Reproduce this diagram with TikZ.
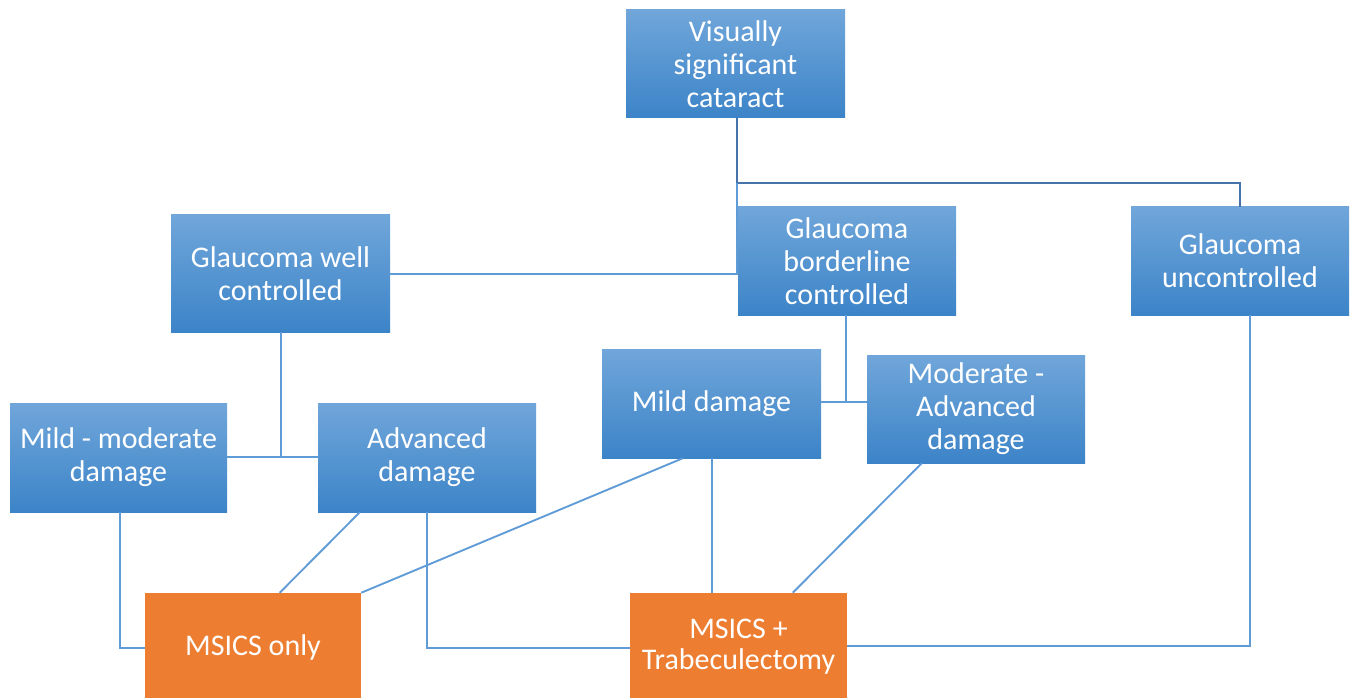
\documentclass[tikz,border=0pt]{standalone}
\usepackage{fontspec}
\setmainfont{Carlito}
\usetikzlibrary{calc}
\definecolor{btop}{RGB}{112,166,218}
\definecolor{bbot}{RGB}{60,132,200}
\definecolor{orng}{RGB}{237,125,49}
\definecolor{lnlight}{RGB}{95,155,215}
\definecolor{lndark}{RGB}{70,115,170}
\tikzset{
  bsize/.style 2 args={minimum width=#1*0.75pt, minimum height=#2*0.75pt},
  bluebox/.style={rectangle, inner sep=0pt, draw=none, top color=btop, bottom color=bbot,
    text=white, align=center, font=\fontsize{22.5}{24.8}\selectfont},
  orangebox/.style={rectangle, inner sep=0pt, draw=none, fill=orng,
    text=white, align=center, font=\fontsize{22.5}{23.5}\selectfont},
  conn/.style={draw=lnlight, line width=1.4pt},
  conndk/.style={draw=lndark, line width=1.4pt},
}
\begin{document}
\begin{tikzpicture}[x=0.75pt, y=-0.75pt]
\fill[white] (0,0) rectangle (1351,698);
\useasboundingbox (0,0) rectangle (1351,698);

\coordinate (j1) at (737,183);
\coordinate (j2) at (737,274);
\coordinate (j3) at (281,457);
\coordinate (j4) at (846,402);
\coordinate (j5) at (1250,646);
\coordinate (j6) at (120,648);
\coordinate (j7) at (427,648);

\node[bluebox, bsize={219}{108}] (cat) at (735.5,64) {Visually\\significant\\cataract};
\node[bluebox, bsize={219}{117}] (well) at (280.5,273.5) {Glaucoma well\\controlled};
\node[bluebox, bsize={218}{108}] (bord) at (847,261) {Glaucoma\\borderline\\controlled};
\node[bluebox, bsize={218}{108}] (unc) at (1240,261) {Glaucoma\\uncontrolled};
\node[bluebox, bsize={217}{109}] (mm) at (118.5,457.5) {Mild - moderate\\damage};
\node[bluebox, bsize={218}{109}] (adv) at (427,457.5) {Advanced\\damage};
\node[bluebox, bsize={219}{109}] (mild) at (711.5,403.5) {Mild damage};
\node[bluebox, bsize={218}{108}] (mod) at (976,409) {Moderate -\\Advanced\\damage};
\node[orangebox, bsize={216}{108}] (only) at (253,647) {MSICS only};
\node[orangebox, bsize={217}{108}] (trab) at (738.5,647) {MSICS +\\Trabeculectomy};

% top tree
\draw[conndk] (cat.south -| j1) -- (j1) -| (unc.north);
\draw[conn] (j1) -- (j2) -- (well.east |- j2);
% well controlled branch
\draw[conn] (well.south -| j3) -- (j3);
\draw[conn] (mm.east |- j3) -- (adv.west |- j3);
% borderline branch
\draw[conn] (bord.south -| j4) -- (j4);
\draw[conn] (mild.east |- j4) -- (mod.west |- j4);
% uncontrolled
\draw[conn] (unc.south -| j5) -- (j5) -- (trab.east |- j5);
% mild-moderate -> MSICS only
\draw[conn] (mm.south -| j6) -- (j6) -- (only.west |- j6);
% advanced -> MSICS only, MSICS + Trab
\draw[conn] ($(adv.south west)+(42,0)$) -- ($(only.north west)+(135,0)$);
\draw[conn] (adv.south -| j7) -- (j7) -- (trab.west |- j7);
% mild damage
\draw[conn] ($(mild.south west)+(81,0)$) -- (only.north east);
\draw[conn] ($(mild.south west)+(110,0)$) -- ($(trab.north west)+(82,0)$);
% moderate-advanced
\draw[conn] ($(mod.south west)+(55,0)$) -- ($(trab.north west)+(163,0)$);
\end{tikzpicture}
\end{document}
